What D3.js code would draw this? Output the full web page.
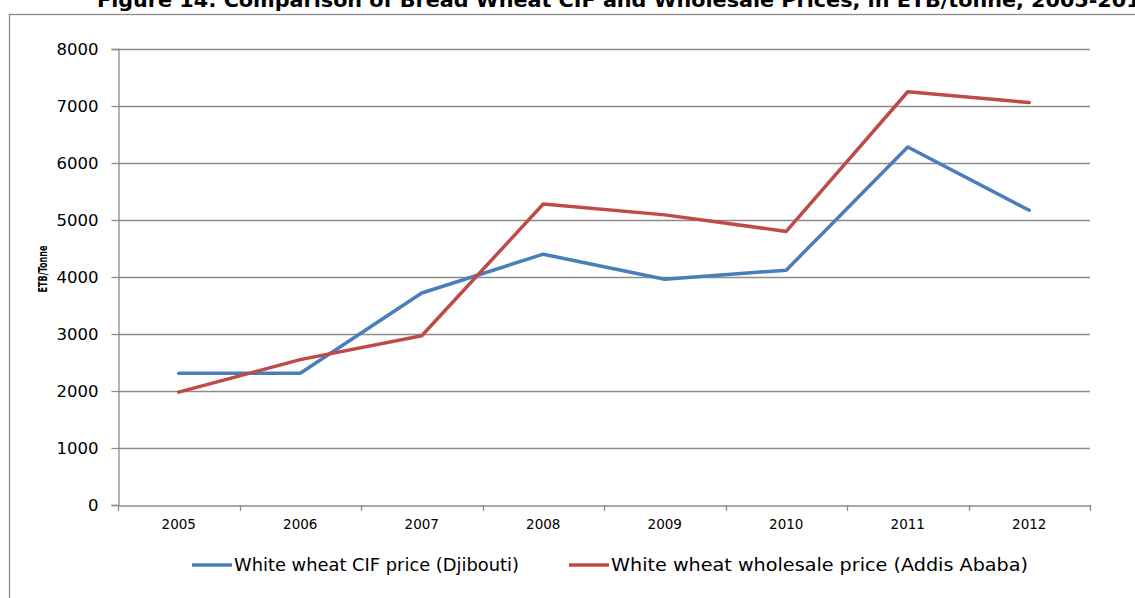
<!DOCTYPE html>
<html>
<head>
<meta charset="utf-8">
<script src="https://cdn.jsdelivr.net/npm/d3@7/dist/d3.min.js"></script>
<style>
  html, body { margin: 0; padding: 0; background: #fff; overflow: hidden; }
  svg { display: block; }
</style>
</head>
<body>
<svg id="chart" width="1135" height="598"></svg>
<script>
// Bread wheat prices, ETB per tonne
const years = ["2005", "2006", "2007", "2008", "2009", "2010", "2011", "2012"];
const cifDjibouti = [2310, 2310, 3720, 4400, 3960, 4120, 6280, 5170];
const wholesaleAddis = [1980, 2550, 2970, 5280, 5090, 4800, 7250, 7060];
const yTicks = [0, 1000, 2000, 3000, 4000, 5000, 6000, 7000, 8000];
const seriesNames = ["White wheat CIF price (Djibouti)", "White wheat wholesale price (Addis Ababa)"];
const seriesColors = ["#4a7ebb", "#be4b48"];

const svg = d3.select("#chart");
const gridColor = "#8c8c8c";
const font = "'DejaVu Sans', Verdana, sans-serif";

// chart frame
svg.append("rect")
  .attr("x", 9.5).attr("y", 14.5)
  .attr("width", 1300).attr("height", 700)
  .attr("fill", "none").attr("stroke", gridColor).attr("stroke-width", 1.3);

// title (runs past the page edge)
svg.append("text")
  .attr("x", 97).attr("y", 7)
  .attr("font-family", "'DejaVu Sans Condensed', 'DejaVu Sans', sans-serif")
  .attr("font-weight", "bold")
  .attr("font-size", 20)
  .attr("textLength", 1058)
  .attr("lengthAdjust", "spacingAndGlyphs")
  .attr("fill", "#000")
  .text("Figure 14: Comparison of Bread Wheat CIF and Wholesale Prices, in ETB/tonne, 2005-2012");

const plotLeft = 118, plotRight = 1090, plotTop = 49, plotBottom = 505;

const x = d3.scaleBand().domain(years).range([plotLeft, plotRight]).paddingInner(0).paddingOuter(0);
const y = d3.scaleLinear().domain([0, 8000]).range([plotBottom, plotTop]);

// horizontal gridlines
svg.append("g")
  .selectAll("line")
  .data(yTicks.filter(d => d > 0))
  .join("line")
  .attr("x1", plotLeft).attr("x2", plotRight)
  .attr("y1", d => Math.round(y(d)) + 0.5).attr("y2", d => Math.round(y(d)) + 0.5)
  .attr("stroke", gridColor).attr("stroke-width", 1.3);

// y axis
const yAxis = svg.append("g")
  .attr("transform", `translate(${plotLeft + 0.5},0)`)
  .call(d3.axisLeft(y).tickValues(yTicks).tickSize(7).tickPadding(13).tickFormat(d3.format("d")));
yAxis.select(".domain").attr("stroke", gridColor).attr("stroke-width", 1.3);
yAxis.selectAll(".tick line").attr("stroke", gridColor).attr("stroke-width", 1.3);
yAxis.selectAll(".tick text")
  .attr("font-family", font).attr("font-size", 16.5).attr("fill", "#000").attr("dy", "0.36em");

// x axis
const xAxis = svg.append("g")
  .attr("transform", `translate(0,${plotBottom + 0.5})`)
  .call(d3.axisBottom(x).tickSize(0).tickPadding(14));
xAxis.select(".domain").attr("stroke", gridColor).attr("stroke-width", 1.3);
xAxis.selectAll(".tick text")
  .attr("font-family", font).attr("font-size", 13.5).attr("fill", "#000");
// tick marks sit on the band boundaries
svg.append("g")
  .selectAll("line")
  .data(years.map(d => x(d)).concat([plotRight]))
  .join("line")
  .attr("x1", d => Math.round(d) + 0.5).attr("x2", d => Math.round(d) + 0.5)
  .attr("y1", plotBottom).attr("y2", plotBottom + 6)
  .attr("stroke", gridColor).attr("stroke-width", 1.3);

// y axis title
svg.append("text")
  .attr("transform", "translate(47,269) rotate(-90)")
  .attr("text-anchor", "middle")
  .attr("font-family", "'DejaVu Sans Condensed', 'DejaVu Sans', sans-serif")
  .attr("font-weight", "bold").attr("font-size", 13)
  .attr("textLength", 47)
  .attr("lengthAdjust", "spacingAndGlyphs")
  .attr("fill", "#000")
  .text("ETB/Tonne");

// series lines
const line = d3.line()
  .x((d, i) => x(years[i]) + x.bandwidth() / 2)
  .y(d => y(d));

[cifDjibouti, wholesaleAddis].forEach((vals, i) => {
  svg.append("path")
    .datum(vals)
    .attr("d", line)
    .attr("fill", "none")
    .attr("stroke", seriesColors[i])
    .attr("stroke-width", 3.5)
    .attr("stroke-linejoin", "round")
    .attr("stroke-linecap", "round");
});

// legend
const legendX = [192, 569];
const legendTextWidth = [285, 417];
const legend = svg.append("g");
seriesNames.forEach((name, i) => {
  legend.append("line")
    .attr("x1", legendX[i]).attr("x2", legendX[i] + 40)
    .attr("y1", 565).attr("y2", 565)
    .attr("stroke", seriesColors[i]).attr("stroke-width", 3.5);
  legend.append("text")
    .attr("x", legendX[i] + 42).attr("y", 571)
    .attr("font-family", font).attr("font-size", 17)
    .attr("textLength", legendTextWidth[i])
    .attr("lengthAdjust", "spacingAndGlyphs")
    .attr("fill", "#000")
    .text(name);
});
</script>
</body>
</html>
